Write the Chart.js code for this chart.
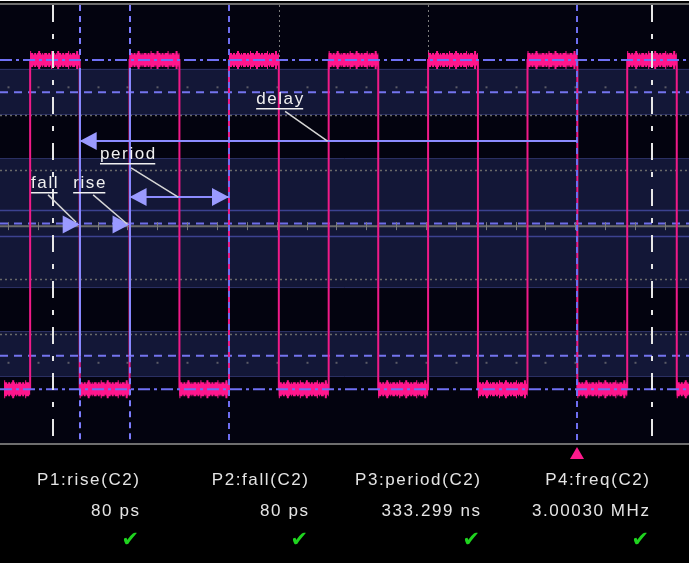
<!DOCTYPE html>
<html>
<head>
<meta charset="utf-8">
<title>C2 timing measurements</title>
<script src="https://cdn.jsdelivr.net/npm/chart.js@4.4.1/dist/chart.umd.min.js"></script>
<style>
    html, body { margin: 0; padding: 0; background: #fff; overflow: hidden; }
    #wrap { position: relative; width: 689px; height: 563px; }
    #scope { position: absolute; left: 0; top: 0; }
    .param {
        position: absolute;
        width: 170px;
        text-align: right;
        color: #e4e4e4;
        font-family: "Liberation Sans", Arial, sans-serif;
        font-size: 17px;
        letter-spacing: 1.6px;
        line-height: 20px;
        white-space: nowrap;
    }
    .check { color: #1fd41f; font-family: "DejaVu Sans", sans-serif; font-size: 21px; letter-spacing: 0; }
</style>
</head>
<body>
<div id="wrap">
    <canvas id="scope" width="689" height="563"></canvas>
    <div id="params"></div>
</div>
<script>
/* ================= DATA ================= */
// C2 square wave, time in ns, amplitude in divisions
const edgeTimes = [74, 240, 407, 574, 740, 907, 1074, 1240, 1407, 1574, 1740, 1907, 2074, 2240];
const traceStart = -13;
const traceEnd = 2281;
const levelHigh = 3.0;
const levelLow = -3.0;

// measurement table
const paramNames  = ["P1:rise(C2)", "P2:fall(C2)", "P3:period(C2)", "P4:freq(C2)"];
const paramValues = ["80 ps", "80 ps", "333.299 ns", "3.00030 MHz"];
const paramOk     = [true, true, true, true];

// cursors (ns)
const markerCursors = [151, 2157];
const edgeCursors   = [240, 407];
const periodCursors = [740, 1907];
const gateCursors   = [907, 1407];
const triggerTime   = 1907;

// horizontal references (div)
const shadedBands     = [[2.0, 2.84], [-1.16, 1.21], [-2.78, -1.94]];
const bandLines       = [0.26, -0.21];
const gridLevels      = [2, 1, -1, -2];
const thresholdLevels = [2.41, -2.39];
const dotRows         = [2.5, -2.52];
const gridStep        = 100;

// measurement arrows
const arrowNames = ["delay", "period", "fall", "rise"];
const arrowLevel = [1.52, 0.5, 0.0, 0.0];
const arrowFrom  = [240, 407, 240, 407];
const arrowTo    = [1907, 740, 240, 407];

// label anchors (ns, div) and leader lines
const labelX    = [831, 308, 77, 218];
const labelY    = [2.12, 1.12, 0.59, 0.59];
const leadFromX = [928, 412, 134, 285];
const leadFromY = [2.06, 1.03, 0.54, 0.54];
const leadToX   = [1070, 570, 228, 399];
const leadToY   = [1.52, 0.5, 0.04, 0.01];

/* ================= TRACE ================= */
function buildTrace() {
    const pts = [{ x: traceStart, y: levelLow }];
    let level = levelLow;
    edgeTimes.forEach(t => {
        level = level === levelLow ? levelHigh : levelLow;
        pts.push({ x: t, y: level });
    });
    pts.push({ x: traceEnd, y: level });
    return pts;
}

function buildLevels() {
    const times = [traceStart, ...edgeTimes, traceEnd];
    const pts = [];
    let level = levelLow;
    for (let i = 0; i < times.length - 1; i++) {
        pts.push({ x: times[i], y: level }, { x: times[i + 1], y: level }, { x: times[i + 1], y: null });
        level = level === levelLow ? levelHigh : levelLow;
    }
    return pts;
}

/* ================= HELPERS ================= */
function hline(ctx, a, py, color, width, dash) {
    ctx.beginPath();
    ctx.setLineDash(dash || []);
    ctx.strokeStyle = color;
    ctx.lineWidth = width;
    ctx.moveTo(a.left, py);
    ctx.lineTo(a.right, py);
    ctx.stroke();
}

function vline(ctx, px, y0, y1, color, width, dash) {
    ctx.beginPath();
    ctx.setLineDash(dash || []);
    ctx.strokeStyle = color;
    ctx.lineWidth = width;
    ctx.moveTo(px, y0);
    ctx.lineTo(px, y1);
    ctx.stroke();
}

function arrowHead(ctx, tipX, py, dir) {
    ctx.beginPath();
    ctx.fillStyle = "#9a9aff";
    ctx.moveTo(tipX, py);
    ctx.lineTo(tipX - dir * 17, py - 9);
    ctx.lineTo(tipX - dir * 17, py + 9);
    ctx.closePath();
    ctx.fill();
}

/* ================= PLUGIN ================= */
const scopePlugin = {
    id: "scope",
    beforeDraw(chart) {
        const { ctx, chartArea: a, scales: { x, y } } = chart;
        ctx.save();
        ctx.fillStyle = "#000";
        ctx.fillRect(0, 1, chart.width, chart.height - 1);
        ctx.fillStyle = "#03030f";
        ctx.fillRect(a.left, a.top, a.right - a.left, a.bottom - a.top);

        shadedBands.forEach(([lo, hi]) => {
            const top = y.getPixelForValue(hi);
            const bot = y.getPixelForValue(lo);
            ctx.fillStyle = "#131737";
            ctx.fillRect(a.left, top, a.right - a.left, bot - top);
            hline(ctx, a, Math.round(top) + 0.5, "#2a2f62", 1);
            hline(ctx, a, Math.round(bot) - 0.5, "#2a2f62", 1);
        });
        bandLines.forEach(v => hline(ctx, a, Math.round(y.getPixelForValue(v)) + 0.5, "#3c4290", 1.5));

        gridLevels.forEach(v => hline(ctx, a, Math.round(y.getPixelForValue(v)) + 0.5, "#6a6a6a", 1.5, [2, 3]));
        thresholdLevels.forEach(v => hline(ctx, a, y.getPixelForValue(v), "#7474ee", 2, [8, 6]));

        // division dots and centre axis ticks
        const axisY = y.getPixelForValue(-0.03);
        hline(ctx, a, axisY, "#6c6c6c", 2);
        hline(ctx, a, y.getPixelForValue(0.02), "#6e6ee8", 2, [8, 6]);
        for (let t = 0; t <= x.max; t += gridStep) {
            const px = Math.round(x.getPixelForValue(t)) + 0.5;
            vline(ctx, px, axisY - 4, axisY + 4, "#7a7a7a", 1);
            ctx.fillStyle = "#5a5a66";
            dotRows.forEach(v => ctx.fillRect(px - 1, y.getPixelForValue(v) - 1, 2, 2));
        }
        ctx.restore();
    },
    afterDatasetsDraw(chart) {
        const { ctx, chartArea: a, scales: { x, y } } = chart;
        const yHigh = y.getPixelForValue(levelHigh);
        const snap = v => Math.round(x.getPixelForValue(v));
        ctx.save();

        // reference levels over the trace
        [levelHigh, levelLow].forEach(v => hline(ctx, a, y.getPixelForValue(v), "#7070f4", 2, [12, 4, 3, 4]));

        // cursors
        markerCursors.forEach(t => vline(ctx, snap(t), a.top, a.bottom, "#e6e6e6", 2, [17, 12, 5, 12]));
        gateCursors.forEach(t => vline(ctx, snap(t) + 0.5, a.top, yHigh, "#7a7a7a", 1, [2, 3]));
        periodCursors.forEach(t => vline(ctx, snap(t), a.top, a.bottom, "#6e6ef0", 2, [6, 5]));
        edgeCursors.forEach(t => {
            const px = snap(t);
            vline(ctx, px, a.top, yHigh, "#7c7cff", 2, [6, 5]);
            vline(ctx, px, yHigh + 8, y.getPixelForValue(-2.4), "#8888ff", 2);
            vline(ctx, px, y.getPixelForValue(-2.4), a.bottom, "#7c7cff", 2, [6, 5]);
        });

        // measurement arrows
        arrowNames.forEach((name, i) => {
            const py = y.getPixelForValue(arrowLevel[i]);
            const x0 = x.getPixelForValue(arrowFrom[i]);
            const x1 = x.getPixelForValue(arrowTo[i]);
            if (x1 > x0) {
                ctx.beginPath();
                ctx.setLineDash([]);
                ctx.strokeStyle = "#8c8cff";
                ctx.lineWidth = 2;
                ctx.moveTo(x0, py);
                ctx.lineTo(x1, py);
                ctx.stroke();
                arrowHead(ctx, x0, py, -1);
                if (name === "period") arrowHead(ctx, x1, py, 1);
            } else {
                arrowHead(ctx, x1, py, 1);
            }
        });

        // labels with leader lines
        ctx.font = '17px "Liberation Sans", Arial, sans-serif';
        ctx.letterSpacing = "1.6px";
        ctx.textBaseline = "alphabetic";
        arrowNames.forEach((name, i) => {
            const lx = x.getPixelForValue(labelX[i]);
            const ly = Math.round(y.getPixelForValue(labelY[i]));
            const w = ctx.measureText(name).width - 1.6;
            ctx.fillStyle = "#f0f0f0";
            ctx.fillText(name, lx, ly - 4);
            ctx.fillRect(lx, ly, w, 1.5);
            ctx.beginPath();
            ctx.setLineDash([]);
            ctx.strokeStyle = "#d6d6d6";
            ctx.lineWidth = 1.5;
            ctx.moveTo(x.getPixelForValue(leadFromX[i]), y.getPixelForValue(leadFromY[i]));
            ctx.lineTo(x.getPixelForValue(leadToX[i]), y.getPixelForValue(leadToY[i]));
            ctx.stroke();
        });

        // frame lines
        ctx.fillStyle = "#6e6e6e";
        ctx.fillRect(a.left, a.top - 2, a.right - a.left, 2);
        ctx.fillRect(a.left, a.bottom - 1, a.right - a.left, 2);

        // trigger marker
        const tx = snap(triggerTime);
        ctx.beginPath();
        ctx.fillStyle = "#ff1a8c";
        ctx.moveTo(tx, a.bottom + 3);
        ctx.lineTo(tx - 7, a.bottom + 15);
        ctx.lineTo(tx + 7, a.bottom + 15);
        ctx.closePath();
        ctx.fill();
        ctx.restore();
    }
};

/* ================= CHART ================= */
const levelData = buildLevels();
const noiseStyle = { borderColor: "#ff168c", borderCapStyle: "butt", pointRadius: 0, spanGaps: false };

new Chart(document.getElementById("scope"), {
    type: "line",
    data: {
        datasets: [
            { label: "C2 spikes", data: levelData, ...noiseStyle, borderWidth: 18, borderDash: [1, 7, 2, 11, 1, 5, 2, 9] },
            { label: "C2 noise",  data: levelData, ...noiseStyle, borderWidth: 14, borderDash: [3, 1, 2, 1, 4, 1, 1, 1] },
            { label: "C2 levels", data: levelData, ...noiseStyle, borderWidth: 11 },
            {
                label: "C2",
                data: buildTrace(),
                borderColor: "#f01a88",
                borderWidth: 2,
                stepped: true,
                pointRadius: 0
            }
        ]
    },
    options: {
        responsive: false,
        animation: false,
        events: [],
        layout: { padding: { top: 5, bottom: 119, left: 0, right: 0 } },
        scales: {
            x: { type: "linear", min: -27, max: 2281, display: false },
            y: { type: "linear", min: -4, max: 4, display: false }
        },
        plugins: {
            legend: { display: false },
            tooltip: { enabled: false }
        }
    },
    plugins: [scopePlugin]
});

/* ================= PARAMETER TABLE ================= */
const columnRight = [139, 308, 480, 649];
const paramsEl = document.getElementById("params");
paramNames.forEach((name, i) => {
    const left = columnRight[i] - 170 + 1.6;
    paramsEl.innerHTML += `
        <div class="param" style="left:${left}px; top:470px">${name}</div>
        <div class="param" style="left:${left}px; top:501px">${paramValues[i]}</div>
        <div class="param check" style="left:${left - 1.6}px; top:529px">${paramOk[i] ? "✔" : ""}</div>
    `;
});
</script>
</body>
</html>
